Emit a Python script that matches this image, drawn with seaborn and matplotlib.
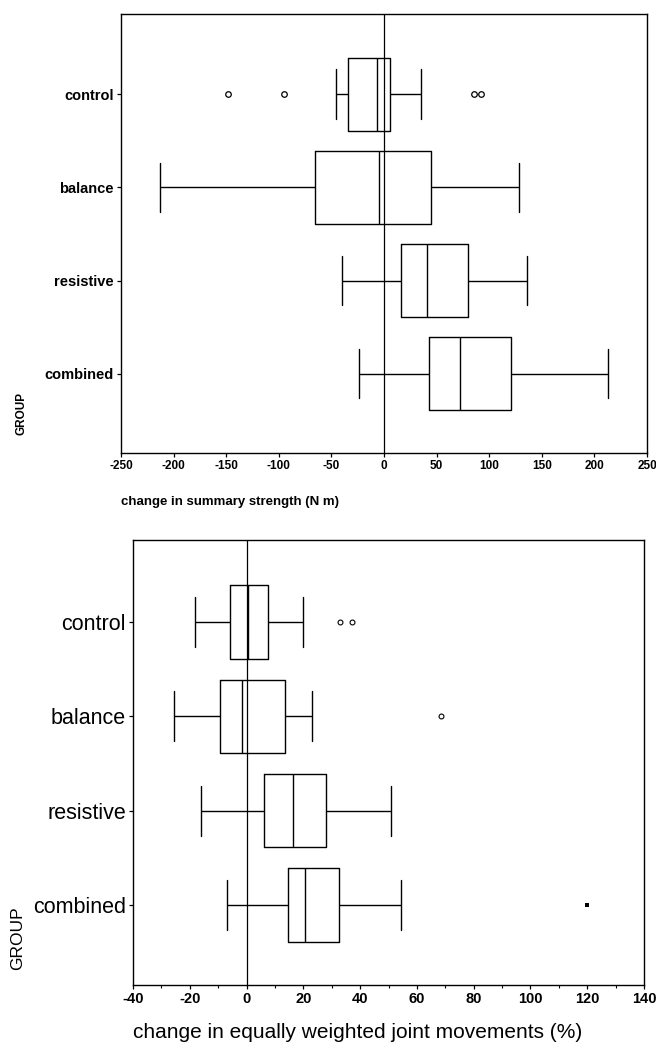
import numpy as np
import pandas as pd
import matplotlib
matplotlib.use("Agg")
import matplotlib.pyplot as plt
from matplotlib.ticker import MultipleLocator
import seaborn as sns

# ---------------- data ----------------
groups = ["control", "balance", "resistive", "combined"]

# five-number summaries (whisker low, Q1, median, Q3, whisker high)
strength_control = [-46, -34, -7, 6, 35]
strength_balance = [-213, -66, -5, 45, 128]
strength_resistive = [-40, 16, 41, 80, 136]
strength_combined = [-24, 43, 72, 121, 213]
strength_out_groups = ["control", "control", "control", "control"]
strength_out_values = [-148, -95, 86, 92]

joint_control = [-18, -6, 0.5, 7.5, 20]
joint_balance = [-25.5, -9.5, -1.5, 13.5, 23]
joint_resistive = [-16, 6, 16.5, 28, 51]
joint_combined = [-7, 14.5, 20.5, 32.5, 54.5]
joint_out_groups = ["control", "control", "balance"]
joint_out_values = [33, 37, 68.5]
joint_ext_groups = ["combined"]
joint_ext_values = [120]

strength_xticks = list(range(-250, 251, 50))
joint_xticks = list(range(-40, 141, 20))

strength_df = pd.DataFrame({
    "GROUP": np.repeat(groups, 5),
    "value": strength_control + strength_balance + strength_resistive + strength_combined,
})
joint_df = pd.DataFrame({
    "GROUP": np.repeat(groups, 5),
    "value": joint_control + joint_balance + joint_resistive + joint_combined,
})

# ---------------- style ----------------
sns.set_style("ticks")
plt.rcParams["font.family"] = ["Liberation Sans", "DejaVu Sans"]
plt.rcParams["axes.unicode_minus"] = False
plt.rcParams["axes.edgecolor"] = "black"
plt.rcParams["axes.labelcolor"] = "black"
plt.rcParams["text.color"] = "black"
plt.rcParams["axes.linewidth"] = 1.0
plt.rcParams["xtick.color"] = "black"
plt.rcParams["ytick.color"] = "black"
plt.rcParams["xtick.labelcolor"] = "black"
plt.rcParams["ytick.labelcolor"] = "black"

fig = plt.figure(figsize=(6.56, 10.52), dpi=100)
W, H = 656, 1052
ax1 = fig.add_axes([121 / W, 1 - 453 / H, 526 / W, 439 / H])
ax2 = fig.add_axes([133 / W, 1 - 985 / H, 511 / W, 445 / H])

box_kws = dict(orient="h", order=groups, fill=False, color="black", linewidth=1.0,
               width=0.78, whis=(0, 100), showfliers=False, capwidths=0.53)

# ---- top panel ----
sns.boxplot(data=strength_df, x="value", y="GROUP", ax=ax1, **box_kws)
sns.stripplot(x=strength_out_values, y=strength_out_groups, order=groups, orient="h",
              jitter=False, ax=ax1, color="white", edgecolor="black", linewidth=0.9,
              size=4, marker="o", zorder=5)
ax1.axvline(0, color="black", lw=0.9, zorder=1)
ax1.set_xlim(-250, 250)
ax1.set_ylim(3.85, -0.86)
ax1.set_xticks(strength_xticks)
ax1.set_xticklabels([str(v) for v in strength_xticks], fontsize=8.5, fontweight="bold")
ax1.set_yticks(range(len(groups)))
ax1.set_yticklabels(groups, fontsize=10.5, fontweight="bold")
ax1.tick_params(axis="both", direction="out", length=3, width=0.9, pad=2)
ax1.set_xlabel("change in summary strength (N m)", fontsize=9.5, fontweight="bold",
               loc="left")
ax1.xaxis.set_label_coords(0.0, -0.098)
ax1.set_ylabel("GROUP", fontsize=8.5, fontweight="bold")
ax1.yaxis.set_label_coords(-0.178, 0.091)
for s in ax1.spines.values():
    s.set_visible(True)
    s.set_color("black")

# ---- bottom panel ----
sns.boxplot(data=joint_df, x="value", y="GROUP", ax=ax2, **box_kws)
sns.stripplot(x=joint_out_values, y=joint_out_groups, order=groups, orient="h",
              jitter=False, ax=ax2, color="white", edgecolor="black", linewidth=0.8,
              size=3.5, marker="o", zorder=5)
sns.stripplot(x=joint_ext_values, y=joint_ext_groups, order=groups, orient="h",
              jitter=False, ax=ax2, color="black", linewidth=0,
              size=3, marker="s", zorder=5)
ax2.axvline(0, color="black", lw=0.9, zorder=1)
ax2.set_xlim(-40, 140)
ax2.set_ylim(3.85, -0.87)
ax2.set_xticks(joint_xticks)
ax2.set_xticklabels([str(v) for v in joint_xticks], fontsize=10.5, fontweight="bold")
ax2.xaxis.set_minor_locator(MultipleLocator(10))
ax2.set_yticks(range(len(groups)))
ax2.set_yticklabels(groups, fontsize=15.5)
ax2.tick_params(axis="both", which="major", direction="out", length=3, width=0.9, pad=2)
ax2.tick_params(axis="x", which="minor", direction="out", length=2, width=0.8)
ax2.set_xlabel("change in equally weighted joint movements (%)", fontsize=15, loc="left")
ax2.xaxis.set_label_coords(0.0, -0.086)
ax2.set_ylabel("GROUP", fontsize=12.5)
ax2.yaxis.set_label_coords(-0.211, 0.106)
for s in ax2.spines.values():
    s.set_visible(True)
    s.set_color("black")

fig.savefig("out.png", dpi=100, facecolor="white")
